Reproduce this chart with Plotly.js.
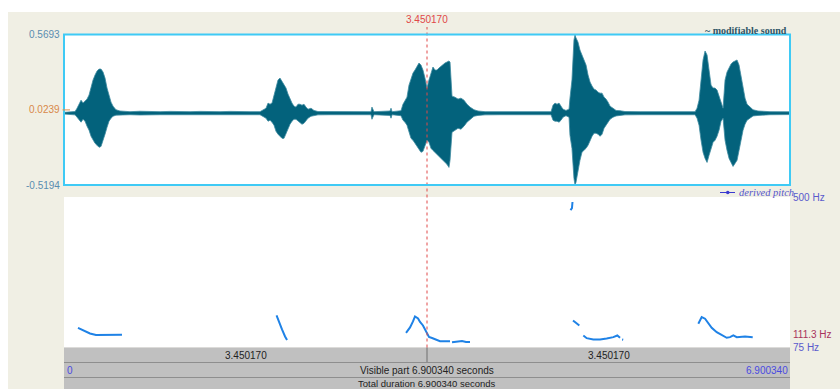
<!DOCTYPE html>
<html>
<head>
<meta charset="utf-8">
<script src="https://cdn.plot.ly/plotly-3.0.1.min.js"></script>
<style>html,body{margin:0;padding:0;background:#fff;}#chart{width:840px;height:389px;}</style>
</head>
<body>
<div id="chart"></div>
<script>
// ---------- data ----------
const totalDuration = 6.900340;
const cursorTime = 3.450170;
const ampMax = 0.5693, ampMin = -0.5194, ampCursor = 0.0239;
const pitchTop = 500, pitchBottom = 75, pitchCursor = 111.3;

// waveform envelope: time (s), upper and lower amplitude
const waveTime = [0,0.105,0.124,0.143,0.162,0.181,0.200,0.219,0.238,0.257,0.276,0.295,0.314,0.333,0.352,0.371,0.390,0.409,0.428,0.447,0.466,0.494,0.532,0.627,0.722,0.817,0.913,1.008,1.103,1.198,1.293,1.388,1.483,1.578,1.673,1.768,1.863,
1.920,1.939,1.958,1.977,1.996,2.015,2.034,2.053,2.072,2.091,2.110,2.129,2.148,2.167,2.186,2.205,2.224,2.243,2.262,2.281,2.300,2.319,2.348,2.376,2.414,2.528,2.671,2.813,2.918,2.927,2.946,3.099,3.108,3.118,
3.203,3.222,3.241,3.260,3.279,3.298,3.317,3.336,3.355,3.374,3.393,3.412,3.431,3.450,3.469,3.488,3.507,3.526,3.545,3.564,3.583,3.602,3.621,3.640,3.659,3.669,3.688,3.716,3.745,3.773,3.802,3.830,3.859,3.897,3.935,4.002,4.144,4.334,4.524,4.629,4.648,4.667,4.686,4.705,4.724,4.743,4.771,4.800,
4.809,4.828,4.847,4.857,4.866,4.885,4.904,4.923,4.942,4.962,4.981,5.000,5.019,5.038,5.057,5.076,5.095,5.114,5.133,5.152,5.171,5.190,5.218,5.247,5.285,5.332,5.475,5.665,5.855,5.998,
6.017,6.036,6.055,6.074,6.093,6.112,6.131,6.150,6.169,6.188,6.207,6.226,6.245,6.264,6.283,6.302,6.321,6.340,6.359,6.378,6.397,6.416,6.435,6.454,6.473,6.492,6.520,6.549,6.596,6.710,6.900];
const waveUpper = [0.006,0.012,0.036,0.065,0.094,0.073,0.087,0.102,0.131,0.189,0.240,0.276,0.305,0.319,0.319,0.298,0.254,0.182,0.123,0.080,0.051,0.025,0.016,0.011,0.014,0.010,0.011,0.013,0.010,0.011,0.013,0.010,0.011,0.013,0.010,0.011,0.011,
0.036,0.073,0.065,0.073,0.131,0.203,0.240,0.254,0.232,0.211,0.182,0.138,0.102,0.073,0.051,0.044,0.065,0.065,0.058,0.065,0.044,0.029,0.036,0.020,0.012,0.011,0.013,0.011,0.011,0.044,0.011,0.016,0.036,0.011,
0.018,0.065,0.087,0.116,0.203,0.254,0.290,0.312,0.341,0.363,0.348,0.312,0.254,0.182,0.240,0.298,0.334,0.312,0.312,0.327,0.341,0.348,0.363,0.370,0.378,0.370,0.123,0.116,0.102,0.109,0.094,0.065,0.044,0.025,0.016,0.011,0.011,0.010,0.011,0.011,0.058,0.073,0.065,0.073,0.051,0.029,0.020,0.029,
0.109,0.240,0.530,0.566,0.545,0.515,0.457,0.421,0.385,0.348,0.276,0.225,0.196,0.174,0.167,0.152,0.145,0.145,0.116,0.102,0.080,0.051,0.036,0.020,0.018,0.012,0.011,0.010,0.011,0.011,
0.036,0.094,0.240,0.385,0.450,0.421,0.312,0.203,0.182,0.182,0.167,0.123,0.065,0.036,0.240,0.298,0.327,0.356,0.370,0.378,0.385,0.348,0.276,0.182,0.109,0.065,0.044,0.025,0.016,0.011,0.010];
const waveLower = [-0.006,-0.012,-0.029,-0.051,-0.065,-0.044,-0.058,-0.094,-0.123,-0.167,-0.196,-0.218,-0.232,-0.247,-0.240,-0.203,-0.152,-0.102,-0.058,-0.036,-0.022,-0.014,-0.012,-0.011,-0.013,-0.010,-0.011,-0.011,-0.010,-0.011,-0.013,-0.010,-0.011,-0.011,-0.010,-0.011,-0.011,
-0.036,-0.058,-0.051,-0.065,-0.087,-0.131,-0.152,-0.167,-0.182,-0.182,-0.145,-0.109,-0.080,-0.058,-0.044,-0.044,-0.058,-0.073,-0.080,-0.073,-0.051,-0.036,-0.022,-0.018,-0.012,-0.011,-0.011,-0.011,-0.011,-0.044,-0.011,-0.016,-0.036,-0.011,
-0.018,-0.051,-0.065,-0.087,-0.138,-0.182,-0.196,-0.218,-0.240,-0.269,-0.283,-0.276,-0.240,-0.196,-0.211,-0.254,-0.269,-0.283,-0.298,-0.312,-0.327,-0.341,-0.356,-0.370,-0.392,-0.341,-0.138,-0.123,-0.109,-0.116,-0.094,-0.065,-0.044,-0.022,-0.016,-0.012,-0.011,-0.010,-0.011,-0.011,-0.051,-0.058,-0.058,-0.065,-0.051,-0.029,-0.018,-0.029,
-0.160,-0.254,-0.472,-0.519,-0.501,-0.414,-0.341,-0.283,-0.269,-0.254,-0.232,-0.196,-0.167,-0.145,-0.145,-0.152,-0.167,-0.152,-0.109,-0.087,-0.065,-0.044,-0.029,-0.020,-0.016,-0.012,-0.011,-0.010,-0.011,-0.011,
-0.036,-0.087,-0.196,-0.283,-0.327,-0.356,-0.305,-0.254,-0.211,-0.196,-0.167,-0.123,-0.058,-0.036,-0.196,-0.269,-0.327,-0.356,-0.385,-0.363,-0.341,-0.269,-0.196,-0.123,-0.080,-0.051,-0.036,-0.020,-0.016,-0.011,-0.010];

// derived pitch contour: time (s) and Hz, null = unvoiced gap
const pitchTime = [0.133,0.190,0.247,0.304,0.380,0.437,0.494,0.551,null,
2.020,2.043,2.072,2.101,2.120,null,
3.251,3.289,3.317,3.336,3.365,3.384,3.412,3.431,3.450,3.469,3.498,3.536,3.574,3.621,3.669,null,3.688,3.726,3.783,3.821,3.859,null,
4.833,4.830,4.828,4.814,null,
4.838,4.866,4.898,null,
4.936,4.968,5.031,5.095,5.158,5.221,5.259,5.285,null,5.305,5.315,null,
6.029,6.061,6.093,6.124,6.156,6.204,6.266,6.299,6.330,6.362,6.394,6.473,6.546];
const pitchHz = [130.2,121.7,114.7,110.4,110.4,111.8,111.0,111.0,null,
165.7,145.8,126.0,106.2,96.3,null,
116.1,131.7,148.7,162.8,157.2,147.2,137.3,127.4,117.5,104.7,101.9,97.7,92.9,92.9,92.9,null,90.0,91.5,93.4,90.6,90.6,null,
485.8,476.9,468.8,463.2,null,
151.5,145.8,137.3,null,
109.0,101.3,97.7,97.7,100.5,104.2,109.0,102.5,null,97.7,97.0,null,
142.1,160.8,156.3,142.1,130.8,118.3,109.0,102.5,104.2,109.0,104.2,106.2,104.2];

// texts
const waveLabel = "~ modifiable sound";
const pitchLabel = "derived pitch";
const visibleText = "Visible part 6.900340 seconds";
const totalText = "Total duration 6.900340 seconds";

// ---------- layout helpers ----------
const W = 840, H = 389;
const px = v => v / W;
const py = v => 1 - v / H;
const L = 64, R = 790;
const waveTopPx = 34.5, waveBotPx = 185;
const pitchTopPx = 197, pitchBotPx = 347.5;
const sans = "Liberation Sans, Arial, sans-serif";
const serif = "Liberation Serif, Times New Roman, serif";
const teal = "#03627c";

const traces = [
  {x: waveTime, y: waveLower, type: "scatter", mode: "lines", line: {color: "#3d8aa0", width: 0.8}, xaxis: "x", yaxis: "y", hoverinfo: "skip"},
  {x: waveTime, y: waveUpper, type: "scatter", mode: "lines", fill: "tonexty", fillcolor: teal, line: {color: "#3d8aa0", width: 0.8}, xaxis: "x", yaxis: "y", hoverinfo: "skip"},
  {x: pitchTime, y: pitchHz, type: "scatter", mode: "lines", connectgaps: false, line: {color: "#1f82e6", width: 2}, xaxis: "x2", yaxis: "y2", hoverinfo: "skip"}
];

const hiddenAxis = {showgrid: false, zeroline: false, showticklabels: false, ticks: "", showline: false, fixedrange: true};

const shapes = [
  {type: "rect", xref: "paper", yref: "paper", x0: px(8), x1: 1, y0: 0, y1: py(12), fillcolor: "#f0efe4", line: {width: 0}, layer: "below"},
  {type: "rect", xref: "paper", yref: "paper", x0: px(L), x1: px(R), y0: py(waveBotPx), y1: py(waveTopPx), fillcolor: "#ffffff", line: {width: 0}, layer: "below"},
  {type: "rect", xref: "paper", yref: "paper", x0: px(L), x1: px(R), y0: py(pitchBotPx), y1: py(pitchTopPx), fillcolor: "#ffffff", line: {width: 0}, layer: "below"},
  // gray time bars
  {type: "rect", xref: "paper", yref: "paper", x0: px(L), x1: px(R), y0: 0, y1: py(347.5), fillcolor: "#c0c0c0", line: {width: 0}},
  {type: "line", xref: "paper", yref: "paper", x0: px(L), x1: px(R), y0: py(362.5), y1: py(362.5), line: {color: "#8e8e8e", width: 1}},
  {type: "line", xref: "paper", yref: "paper", x0: px(L), x1: px(R), y0: py(377.5), y1: py(377.5), line: {color: "#8e8e8e", width: 1}},
  {type: "line", xref: "x", yref: "paper", x0: cursorTime, x1: cursorTime, y0: py(362), y1: py(347.5), line: {color: "#6e6e6e", width: 1}},
  // cursor
  {type: "line", xref: "x", yref: "paper", x0: cursorTime, x1: cursorTime, y0: py(347.5), y1: py(27), line: {color: "#e04848", width: 1, dash: "dot"}},
  // waveform border
  {type: "rect", xref: "paper", yref: "paper", x0: px(L), x1: px(R), y0: py(waveBotPx), y1: py(waveTopPx), line: {color: "#3fcaf5", width: 2}},
  // orange tick mark at cursor amplitude
  {type: "line", xref: "paper", yref: "y", x0: px(62.5), x1: px(70), y0: ampCursor, y1: ampCursor, line: {color: "#e0904a", width: 1}},
  // legend symbol for derived pitch
  {type: "line", xref: "paper", yref: "paper", x0: px(720), x1: px(735), y0: py(192.5), y1: py(192.5), line: {color: "#3a3ad0", width: 1}},
  {type: "circle", xref: "paper", yref: "paper", x0: px(726), x1: px(729.5), y0: py(194.2), y1: py(190.8), fillcolor: "#3a3ad0", line: {width: 0}}
];

const ann = (o) => Object.assign({showarrow: false, font: {family: sans, size: 10, color: "#222"}}, o);
const annotations = [
  ann({xref: "paper", yref: "y", x: px(62), y: ampMax, xanchor: "right", yanchor: "middle", text: ampMax.toFixed(4), font: {family: sans, size: 10, color: "#5a8db0"}}),
  ann({xref: "paper", yref: "y", x: px(62), y: ampCursor, xanchor: "right", yanchor: "middle", text: ampCursor.toFixed(4), font: {family: sans, size: 10, color: "#d8894a"}}),
  ann({xref: "paper", yref: "y", x: px(62), y: ampMin, xanchor: "right", yanchor: "middle", text: ampMin.toFixed(4), font: {family: sans, size: 10, color: "#5a8db0"}}),
  ann({xref: "x", yref: "paper", x: cursorTime, y: py(19), xanchor: "center", yanchor: "middle", text: cursorTime.toFixed(6), font: {family: sans, size: 10, color: "#e04848"}}),
  ann({xref: "paper", yref: "paper", x: px(789), y: py(30.5), xanchor: "right", yanchor: "middle", text: "<b>" + waveLabel + "</b>", font: {family: serif, size: 10, color: "#2e5566"}}),
  ann({xref: "paper", yref: "paper", x: px(737), y: py(192), xanchor: "left", yanchor: "middle", text: "<i>" + pitchLabel + "</i>", font: {family: serif, size: 10.5, color: "#5555cc"}}),
  ann({xref: "paper", yref: "y2", x: px(791), y: pitchTop, xanchor: "left", yanchor: "middle", text: pitchTop + " Hz", font: {family: sans, size: 10, color: "#5a5acc"}}),
  ann({xref: "paper", yref: "y2", x: px(791), y: pitchCursor, xanchor: "left", yanchor: "middle", text: pitchCursor.toFixed(1) + " Hz", font: {family: sans, size: 10, color: "#a8325c"}}),
  ann({xref: "paper", yref: "y2", x: px(791), y: pitchBottom, xanchor: "left", yanchor: "middle", text: pitchBottom + " Hz", font: {family: sans, size: 10, color: "#5a5acc"}}),
  ann({xref: "x", yref: "paper", x: cursorTime / 2, y: py(355), xanchor: "center", yanchor: "middle", text: cursorTime.toFixed(6)}),
  ann({xref: "x", yref: "paper", x: (cursorTime + totalDuration) / 2, y: py(355), xanchor: "center", yanchor: "middle", text: (totalDuration - cursorTime).toFixed(6)}),
  ann({xref: "paper", yref: "paper", x: px(65), y: py(370), xanchor: "left", yanchor: "middle", text: "0", font: {family: sans, size: 10, color: "#4a4ae0"}}),
  ann({xref: "x", yref: "paper", x: totalDuration / 2, y: py(370), xanchor: "center", yanchor: "middle", text: visibleText}),
  ann({xref: "paper", yref: "paper", x: px(790), y: py(370), xanchor: "right", yanchor: "middle", text: totalDuration.toFixed(6), font: {family: sans, size: 10, color: "#4a4ae0"}}),
  ann({xref: "x", yref: "paper", x: totalDuration / 2, y: py(383.3), xanchor: "center", yanchor: "middle", text: totalText, font: {family: sans, size: 9.5, color: "#222"}})
];

const layout = {
  width: W, height: H,
  margin: {l: 0, r: 0, t: 0, b: 0, pad: 0},
  paper_bgcolor: "#ffffff",
  plot_bgcolor: "rgba(0,0,0,0)",
  showlegend: false,
  xaxis: Object.assign({domain: [px(L), px(R)], range: [0, totalDuration], anchor: "y"}, hiddenAxis),
  yaxis: Object.assign({domain: [py(waveBotPx), py(waveTopPx)], range: [ampMin, ampMax], anchor: "x"}, hiddenAxis),
  xaxis2: Object.assign({domain: [px(L), px(R)], range: [0, totalDuration], anchor: "y2", matches: "x"}, hiddenAxis),
  yaxis2: Object.assign({domain: [py(pitchBotPx), py(pitchTopPx)], range: [pitchBottom, pitchTop], anchor: "x2"}, hiddenAxis),
  shapes: shapes,
  annotations: annotations
};

Plotly.newPlot("chart", traces, layout, {staticPlot: true, displayModeBar: false});
</script>
</body>
</html>
